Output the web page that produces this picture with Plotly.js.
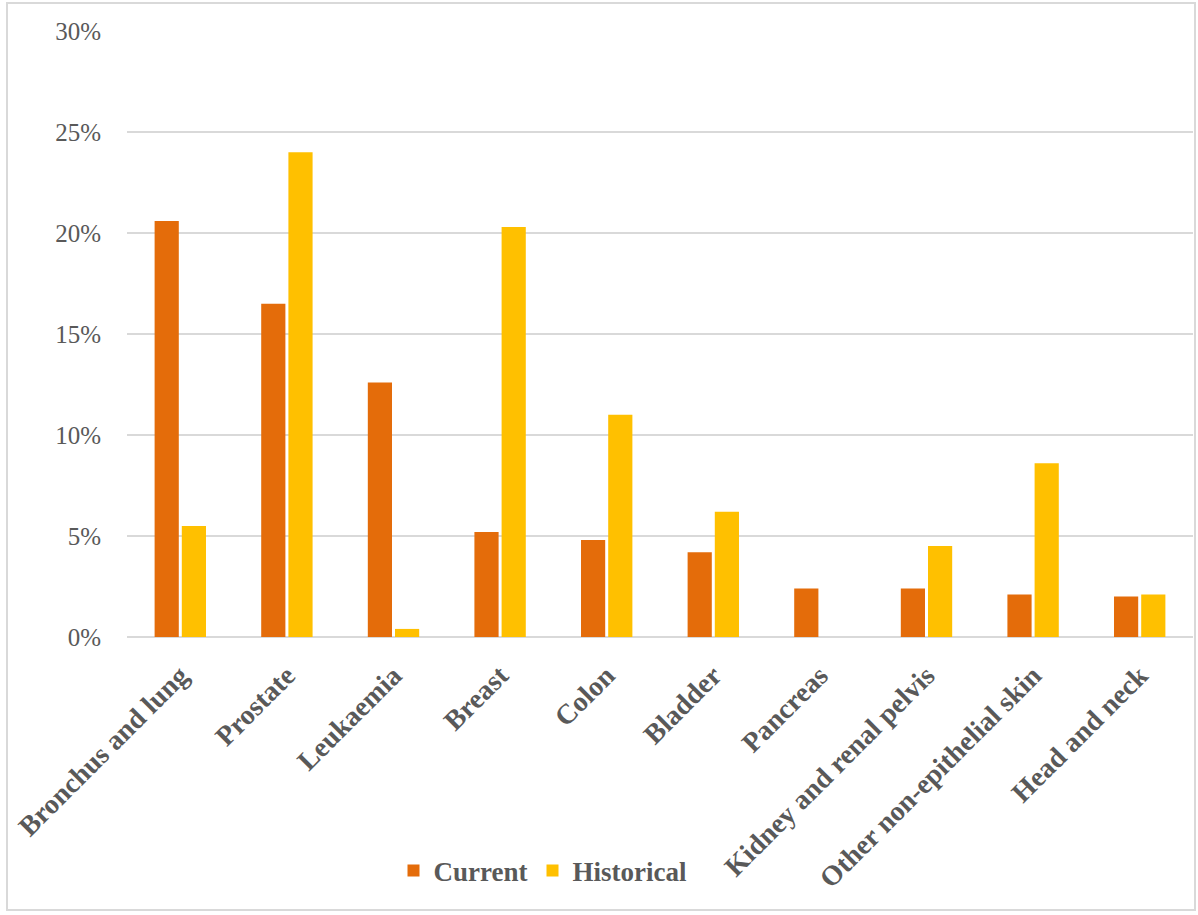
<!DOCTYPE html>
<html>
<head>
<meta charset="utf-8">
<script src="https://cdn.plot.ly/plotly-3.0.1.min.js"></script>
<style>
  html, body { margin: 0; padding: 0; background: #ffffff; }
  #wrap { position: relative; width: 1198px; height: 915px; }
  #chart { position: absolute; left: 0; top: 0; width: 1198px; height: 915px; }
  #frame {
    position: absolute; left: 6px; top: 2px; width: 1186px; height: 905px;
    border: 2px solid #d9d9d9; pointer-events: none;
  }
</style>
</head>
<body>
<div id="wrap">
  <div id="chart"></div>
  <div id="frame"></div>
</div>
<script>
// Cancer sites, share of cases (%)
const sites = [
  "Bronchus and lung", "Prostate", "Leukaemia", "Breast", "Colon",
  "Bladder", "Pancreas", "Kidney and renal pelvis",
  "Other non-epithelial skin", "Head and neck"
];
const currentShare    = [20.6, 16.5, 12.6, 5.2, 4.8, 4.2, 2.4, 2.4, 2.1, 2.0];
const historicalShare = [5.5, 24.0, 0.4, 20.3, 11.0, 6.2, 0.0, 4.5, 8.6, 2.1];
const yTicks = [0, 5, 10, 15, 20, 25, 30];
const yTickLabels = ["0%", "5%", "10%", "15%", "20%", "25%", "30%"];

const textGray = "#595959";
const gridGray = "#d9d9d9";
const serif = "Liberation Serif, Times New Roman, serif";

const traces = [
  {
    type: "bar", name: "Current", x: sites, y: currentShare,
    marker: { color: "#E46C0A" }, hoverinfo: "x+y"
  },
  {
    type: "bar", name: "Historical", x: sites, y: historicalShare,
    marker: { color: "#FFC000" }, hoverinfo: "x+y"
  }
];

const layout = {
  width: 1198, height: 915,
  margin: { l: 127, r: 5, t: 31, b: 278 },
  paper_bgcolor: "#ffffff", plot_bgcolor: "#ffffff",
  barmode: "group", bargap: 0.49, bargroupgap: 0.11,
  showlegend: true,
  legend: {
    orientation: "h", x: 0.25, xanchor: "left", y: -0.386, yanchor: "middle",
    font: { family: serif, size: 27, color: textGray, weight: "bold" },
    itemwidth: 30, traceorder: "normal"
  },
  xaxis: {
    type: "category", tickangle: -45,
    tickfont: { family: serif, size: 28, color: textGray, weight: "bold" },
    ticks: "outside", ticklen: 10, tickcolor: "rgba(0,0,0,0)",
    showgrid: false, showline: false, zeroline: false, fixedrange: true
  },
  yaxis: {
    range: [0, 30], tickmode: "array", tickvals: yTicks, ticktext: yTickLabels,
    tickfont: { family: serif, size: 25, color: textGray },
    ticks: "outside", ticklen: 20, tickcolor: "rgba(0,0,0,0)",
    showgrid: true, gridcolor: gridGray, gridwidth: 1.5,
    zeroline: true, zerolinecolor: gridGray, zerolinewidth: 2,
    showline: false, fixedrange: true
  }
};

Plotly.newPlot("chart", traces, layout, { displayModeBar: false, staticPlot: true });
</script>
</body>
</html>
